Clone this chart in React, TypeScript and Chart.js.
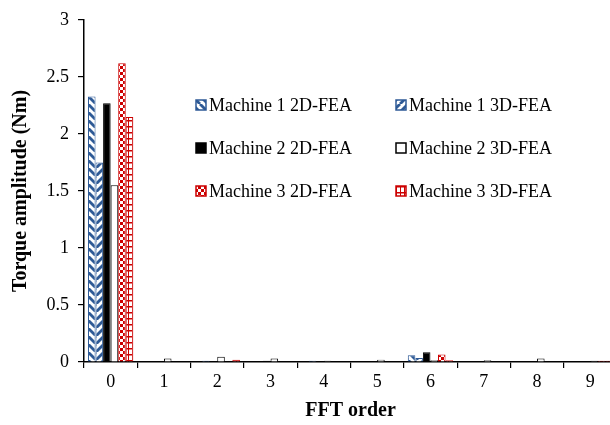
import React, { useEffect, useRef } from 'react';
import { Chart, registerables } from 'chart.js';

Chart.register(...registerables);

// ---- data ----
const fftOrders = ['0', '1', '2', '3', '4', '5', '6', '7', '8', '9'];
const machine1_2D = [2.33, 0, 0, 0, 0, 0, 0.06, 0, 0, 0];
const machine1_3D = [1.75, 0, 0.01, 0, 0.01, 0, 0.035, 0, 0, 0];
const machine2_2D = [2.27, 0.005, 0, 0.01, 0, 0, 0.085, 0, 0, 0.005];
const machine2_3D = [1.55, 0.03, 0.045, 0.03, 0.01, 0.02, 0.015, 0.015, 0.03, 0.01];
const machine3_2D = [2.62, 0, 0, 0, 0, 0, 0.065, 0, 0, 0.01];
const machine3_3D = [2.15, 0.005, 0.02, 0, 0.005, 0, 0.015, 0.005, 0, 0.01];
const seriesNames = [
  'Machine 1 2D-FEA',
  'Machine 1 3D-FEA',
  'Machine 2 2D-FEA',
  'Machine 2 3D-FEA',
  'Machine 3 2D-FEA',
  'Machine 3 3D-FEA',
];
const yMin = 0;
const yMax = 3;
const yStep = 0.5;

const BLUE = '#2E5A96';
const RED = '#CC0000';
const FONT = '"Liberation Serif", "Times New Roman", serif';

function makeTile(w: number, h: number, draw: (c: CanvasRenderingContext2D) => void) {
  const cv = document.createElement('canvas');
  cv.width = w;
  cv.height = h;
  const c = cv.getContext('2d')!;
  draw(c);
  return cv;
}

function buildPatterns(ctx: CanvasRenderingContext2D) {
  const back = makeTile(8, 8, (c) => {
    c.fillStyle = '#fff';
    c.fillRect(0, 0, 8, 8);
    c.strokeStyle = BLUE;
    c.lineWidth = 2.8;
    for (const x of [-8, 0, 8]) {
      c.beginPath();
      c.moveTo(x, 0);
      c.lineTo(x + 8, 8);
      c.stroke();
    }
  });
  const fwd = makeTile(8, 8, (c) => {
    c.fillStyle = '#fff';
    c.fillRect(0, 0, 8, 8);
    c.strokeStyle = BLUE;
    c.lineWidth = 2.8;
    for (const x of [-8, 0, 8]) {
      c.beginPath();
      c.moveTo(x, 8);
      c.lineTo(x + 8, 0);
      c.stroke();
    }
  });
  const checker = makeTile(6, 6, (c) => {
    c.fillStyle = RED;
    c.fillRect(0, 0, 6, 6);
    c.fillStyle = '#fff';
    c.fillRect(3, 0, 3, 3);
    c.fillRect(0, 3, 3, 3);
  });
  const grid = makeTile(4, 6, (c) => {
    c.fillStyle = '#fff';
    c.fillRect(0, 0, 4, 6);
    c.fillStyle = RED;
    c.fillRect(0, 0, 4, 1.5);
    c.fillRect(0, 0, 1, 6);
  });
  return {
    back: ctx.createPattern(back, 'repeat')!,
    fwd: ctx.createPattern(fwd, 'repeat')!,
    checker: ctx.createPattern(checker, 'repeat')!,
    grid: ctx.createPattern(grid, 'repeat')!,
  };
}

const legendPlugin = {
  id: 'insideLegend',
  afterDraw(chart: any, _args: any, opts: any) {
    const ctx = chart.ctx as CanvasRenderingContext2D;
    chart.data.datasets.forEach((ds: any, i: number) => {
      const col = i % 2;
      const row = Math.floor(i / 2);
      const x = opts.x0 + col * opts.dx;
      const y = opts.y0 + row * opts.dy;
      ctx.save();
      ctx.fillStyle = ds.backgroundColor;
      ctx.fillRect(x, y - 5, 10, 10);
      ctx.strokeStyle = ds.borderColor;
      ctx.lineWidth = 1.5;
      ctx.strokeRect(x, y - 5, 10, 10);
      ctx.fillStyle = '#000';
      ctx.font = `18px ${FONT}`;
      ctx.textBaseline = 'middle';
      ctx.textAlign = 'left';
      ctx.fillText(ds.label, x + 13, y + 1);
      ctx.restore();
    });
  },
};

export default function App() {
  const ref = useRef<HTMLCanvasElement | null>(null);

  useEffect(() => {
    const canvas = ref.current!;
    const ctx = canvas.getContext('2d')!;
    const p = buildPatterns(ctx);
    const values = [machine1_2D, machine1_3D, machine2_2D, machine2_3D, machine3_2D, machine3_3D];
    const fills: any[] = [p.back, p.fwd, '#000', '#fff', p.checker, p.grid];
    const borders = [BLUE, BLUE, '#000', '#000', RED, RED];

    const chart = new Chart(ctx, {
      type: 'bar',
      data: {
        labels: fftOrders,
        datasets: values.map((v, i) => ({
          label: seriesNames[i],
          data: v,
          backgroundColor: fills[i],
          borderColor: borders[i],
          borderWidth: 1,
          categoryPercentage: 0.85,
          barPercentage: 1.0,
        })),
      },
      options: {
        animation: false,
        responsive: false,
        maintainAspectRatio: false,
        layout: { padding: { left: 5, right: 23, top: 20, bottom: 0 } },
        plugins: {
          legend: { display: false },
          tooltip: { enabled: false },
          insideLegend: { x0: 196, dx: 200, y0: 105, dy: 43 },
        } as any,
        scales: {
          x: {
            grid: {
              offset: true,
              drawOnChartArea: false,
              drawTicks: true,
              tickLength: 6,
              color: '#000',
              lineWidth: 1.2,
            },
            border: { color: '#000', width: 1.5 },
            ticks: {
              color: '#000',
              font: { family: FONT, size: 18 },
              padding: 3,
              maxRotation: 0,
            },
            title: {
              display: true,
              text: 'FFT order',
              color: '#000',
              font: { family: FONT, size: 20, weight: 'bold' },
              padding: { top: 3.4, bottom: 2 },
            },
          },
          y: {
            min: yMin,
            max: yMax,
            grid: {
              drawOnChartArea: false,
              drawTicks: true,
              tickLength: 6,
              color: '#000',
              lineWidth: 1.2,
            },
            border: { color: '#000', width: 1.5 },
            ticks: {
              stepSize: yStep,
              color: '#000',
              font: { family: FONT, size: 18 },
              padding: 9,
              callback: (v: any) => String(Number(v)),
            },
            title: {
              display: true,
              text: 'Torque amplitude (Nm)',
              color: '#000',
              font: { family: FONT, size: 20, weight: 'bold' },
              padding: { top: 4, bottom: 4.5 },
            },
          },
        },
      },
      plugins: [legendPlugin],
    });
    return () => chart.destroy();
  }, []);

  return (
    <div
      style={{
        position: 'fixed',
        left: 0,
        top: 0,
        width: 610,
        height: 425,
        overflow: 'hidden',
        background: '#fff',
      }}
    >
      <canvas ref={ref} width={640} height={425} style={{ display: 'block', width: 640, height: 425 }} />
    </div>
  );
}
